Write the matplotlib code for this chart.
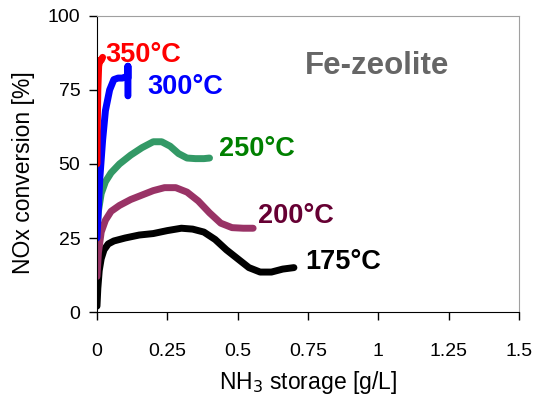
import matplotlib
matplotlib.use("Agg")
import matplotlib.pyplot as plt

plt.rcParams['font.family'] = ['Liberation Sans', 'DejaVu Sans']

# NH3 storage [g/L] vs NOx conversion [%] for each temperature
x_175 = [0, 0.003, 0.008, 0.015, 0.025, 0.04, 0.06, 0.1, 0.15, 0.2, 0.25, 0.3,
         0.34, 0.38, 0.42, 0.46, 0.5, 0.54, 0.58, 0.62, 0.66, 0.70]
y_175 = [2, 8, 14, 18, 21, 23, 24, 25, 26, 26.5, 27.5, 28.3,
         28, 27, 24.5, 21, 18, 15, 13.5, 13.5, 14.5, 15]

x_200 = [0, 0.005, 0.015, 0.03, 0.05, 0.08, 0.12, 0.16, 0.2, 0.24, 0.28, 0.32,
         0.36, 0.4, 0.44, 0.48, 0.52, 0.555]
y_200 = [12, 20, 27, 31, 34, 36, 38, 39.5, 41, 42, 42, 40.5,
         37.5, 33.5, 30, 28.5, 28.3, 28.3]

x_250 = [0, 0.005, 0.015, 0.03, 0.05, 0.08, 0.12, 0.16, 0.2, 0.23, 0.26, 0.29,
         0.32, 0.35, 0.38, 0.40]
y_250 = [28, 34, 40, 44, 47, 50, 53, 55.5, 57.5, 57.5, 56, 53.5,
         52, 51.8, 51.8, 52]

x_300 = [0, 0.01, 0.02, 0.03, 0.045, 0.06, 0.075, 0.09, 0.105, 0.11, 0.11, 0.11]
y_300 = [25, 45, 58, 68, 75, 78.5, 79, 79, 79.5, 79, 83, 73]

x_350 = [0, 0.001, 0.003, 0.006, 0.01, 0.015, 0.02]
y_350 = [50, 62, 75, 83, 85, 85, 86]

series = [
    (x_175, y_175, "#000000"),
    (x_200, y_200, "#993366"),
    (x_250, y_250, "#339966"),
    (x_300, y_300, "#0000FF"),
    (x_350, y_350, "#FF0000"),
]

labels = ["350°C", "300°C", "250°C", "200°C", "175°C"]
label_x = [0.028, 0.178, 0.434, 0.573, 0.74]
label_y = [86.8, 76.0, 55.0, 32.4, 16.9]
label_colors = ["#FF0000", "#0000FF", "#008000", "#660033", "#000000"]

x_ticks = [0, 0.25, 0.5, 0.75, 1, 1.25, 1.5]
x_tick_labels = ["0", "0.25", "0.5", "0.75", "1", "1.25", "1.5"]
y_ticks = [0, 25, 50, 75, 100]

fig = plt.figure(figsize=(5.37, 3.97), dpi=100)
ax = fig.add_axes([0.1806, 0.214, 0.7859, 0.746])

for xs, ys, c in series:
    ax.plot(xs, ys, color=c, lw=5, solid_capstyle='round', solid_joinstyle='round')

for t, lx, ly, c in zip(labels, label_x, label_y, label_colors):
    ax.text(lx, ly, t, color=c, fontsize=19.5, fontweight='bold', va='center', ha='left')

ax.text(0.74, 83, "Fe-zeolite", color="#666666", fontsize=22.5, fontweight='bold',
        va='center', ha='left')

ax.set_xlim(0, 1.5)
ax.set_ylim(0, 100)
ax.set_xticks(x_ticks)
ax.set_xticklabels(x_tick_labels)
ax.set_yticks(y_ticks)
ax.tick_params(direction='out', length=6, width=1, labelsize=14, colors='#000000')
ax.tick_params(axis='x', pad=16)
ax.tick_params(axis='y', pad=6)

for s in ['top', 'right']:
    ax.spines[s].set_color('#A0A0A0')
for s in ['left', 'bottom']:
    ax.spines[s].set_color('#000000')

ax.set_xlabel("NH$_3$ storage [g/L]", fontsize=16.5, labelpad=7)
ax.set_ylabel("NOx conversion [%]", fontsize=16.5)
ax.yaxis.set_label_coords(-0.148, 0.47)

fig.savefig("out.png", dpi=100)
